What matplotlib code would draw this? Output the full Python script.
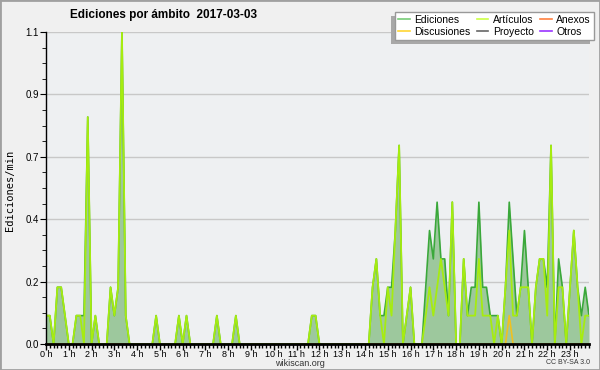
import numpy as np
import matplotlib
matplotlib.use("Agg")
import matplotlib.pyplot as plt
from matplotlib.lines import Line2D
from matplotlib.patches import Rectangle

# edits per minute, one value per 10 minute slot (144 slots)
ediciones = [
    0.1, 0.1, 0, 0.2, 0.2, 0.1, 0, 0, 0.1, 0.1, 0.1, 0.8,
    0, 0.1, 0, 0, 0, 0.2, 0.1, 0.2, 1.1, 0.1, 0, 0,
    0, 0, 0, 0, 0, 0.1, 0, 0, 0, 0, 0, 0.1,
    0, 0.1, 0, 0, 0, 0, 0, 0, 0, 0.1, 0, 0,
    0, 0, 0.1, 0, 0, 0, 0, 0, 0, 0, 0, 0,
    0, 0, 0, 0, 0, 0, 0, 0, 0, 0, 0.1, 0.1,
    0, 0, 0, 0, 0, 0, 0, 0, 0, 0, 0, 0,
    0, 0, 0.2, 0.3, 0.1, 0.1, 0.2, 0.2, 0.4, 0.7, 0, 0.1,
    0.2, 0, 0, 0, 0.2, 0.4, 0.3, 0.5, 0.3, 0.3, 0.1, 0.5,
    0, 0, 0.3, 0.1, 0.2, 0.2, 0.5, 0.2, 0.2, 0.1, 0.1, 0.1,
    0, 0.2, 0.5, 0.3, 0.1, 0.2, 0.4, 0.2, 0, 0.2, 0.3, 0.3,
    0.2, 0.7, 0, 0.3, 0.2, 0, 0.2, 0.4, 0.2, 0.1, 0.2, 0.1,
]
articulos = [
    0.1, 0.1, 0, 0.2, 0.2, 0.1, 0, 0, 0.1, 0.1, 0, 0.8,
    0, 0.1, 0, 0, 0, 0.2, 0.1, 0.2, 1.1, 0.1, 0, 0,
    0, 0, 0, 0, 0, 0.1, 0, 0, 0, 0, 0, 0.1,
    0, 0.1, 0, 0, 0, 0, 0, 0, 0, 0.1, 0, 0,
    0, 0, 0.1, 0, 0, 0, 0, 0, 0, 0, 0, 0,
    0, 0, 0, 0, 0, 0, 0, 0, 0, 0, 0.1, 0.1,
    0, 0, 0, 0, 0, 0, 0, 0, 0, 0, 0, 0,
    0, 0, 0.2, 0.3, 0.1, 0, 0.2, 0.1, 0.4, 0.7, 0, 0.1,
    0.2, 0, 0, 0, 0.1, 0.2, 0.1, 0.2, 0.3, 0.2, 0.1, 0.5,
    0, 0, 0.3, 0.1, 0.1, 0.1, 0.3, 0.1, 0.1, 0.1, 0, 0.1,
    0, 0.2, 0.4, 0.1, 0.1, 0.2, 0.2, 0.2, 0, 0.2, 0.3, 0.3,
    0.1, 0.7, 0, 0.2, 0.2, 0, 0.2, 0.4, 0.2, 0, 0.1, 0.1,
]
discusiones = [0] * 144
discusiones[122] = 0.1

labels = ["Ediciones", "Discusiones", "Artículos", "Proyecto", "Anexos", "Otros"]
colors = ["#77cc77", "#ffd633", "#ccff44", "#666666", "#ff8040", "#9933ff"]

narrow = ["Liberation Sans", "DejaVu Sans"]

t = np.arange(len(ediciones)) / 6.0

fig = plt.figure(figsize=(6, 3.7), dpi=100, facecolor="#f0f0f0")
fig.patches.append(Rectangle((0, 0), 1, 1, transform=fig.transFigure,
                             fill=False, ec="#a0a0a0", lw=2))

ax = fig.add_axes([46/600, 26/370, 543/600, 312/370])
ax.set_facecolor("#eef0f2")

ax.fill_between(t, ediciones, color="#9dc89d", lw=0, zorder=1)
ax.plot(t, ediciones, color="#3aa83a", lw=1.2, zorder=2)
ax.plot(t, discusiones, color="#f0c020", lw=1.2, zorder=2)
ax.plot(t, articulos, color="#a6ec10", lw=1.3, zorder=2)

ax.set_xlim(0, t[-1])
ax.set_ylim(0, 1.1)

yt = np.linspace(0, 1.1, 6)
ax.set_yticks(yt)
ax.set_yticklabels([f"{v:.1f}" for v in yt])
ax.set_yticks(np.linspace(0, 1.1, 21), minor=True)
ax.set_xticks(range(24))
ax.set_xticklabels([f"{h} h" for h in range(24)])
ax.set_xticks(t, minor=True)

ax.grid(axis="y", color="#c8c8c8", lw=1)
ax.set_axisbelow(True)
for s in ["top", "right"]:
    ax.spines[s].set_visible(False)
ax.spines["bottom"].set_linewidth(2)
ax.spines["left"].set_linewidth(1)
ax.spines["bottom"].set_zorder(5)

ax.tick_params(axis="both", which="both", direction="out", color="black")
ax.tick_params(axis="y", which="major", length=4, pad=1, labelsize=7)
ax.tick_params(axis="y", which="minor", length=3)
ax.tick_params(axis="x", which="major", length=4, width=1, pad=0, labelsize=6.5)
ax.tick_params(axis="x", which="minor", length=3, width=1)
for lab in ax.get_xticklabels() + ax.get_yticklabels():
    lab.set_family(narrow)

fig.text(10/600, 1 - 190/370, "Ediciones/min", rotation=90, ha="center",
         va="center", fontsize=7.5, family="DejaVu Sans Mono")
fig.text(163/600, 1 - 15/370, "Ediciones por ámbito  2017-03-03",
         ha="center", va="center", fontsize=8.5, fontweight="bold",
         family=narrow)
fig.text(300/600, 1 - 363/370, "wikiscan.org", ha="center", va="center",
         fontsize=6.5, color="#333333", family=narrow)
fig.text(590/600, 1 - 363/370, "CC BY-SA 3.0", ha="right", va="center",
         fontsize=5, color="#333333", family=narrow)

handles = [Line2D([], [], color=c, lw=1.2) for c in colors]
leg = fig.legend(handles, labels, ncol=3, loc="upper right",
                 bbox_to_anchor=(594/600, 1 - 12/370),
                 prop={"family": narrow, "size": 7.5},
                 frameon=True, shadow=False, fancybox=False,
                 handlelength=1.1, columnspacing=0.6, labelspacing=0.15,
                 borderpad=0.3, handletextpad=0.45, borderaxespad=0)
leg.get_frame().set_edgecolor("#999999")
leg.get_frame().set_facecolor("white")
leg.get_frame().set_alpha(1)
leg.get_frame().set_linewidth(1)
leg.set_zorder(4)

# shadow of the legend box, offset to the lower left
fig.canvas.draw()
bb = leg.get_window_extent().transformed(fig.transFigure.inverted())
fig.patches.append(Rectangle((bb.x0 - 4/600, bb.y0 - 4/370), bb.width, bb.height,
                             transform=fig.transFigure, fc="#a8a8a8",
                             ec="none", zorder=3))

fig.savefig("out.png", dpi=100, facecolor=fig.get_facecolor())
